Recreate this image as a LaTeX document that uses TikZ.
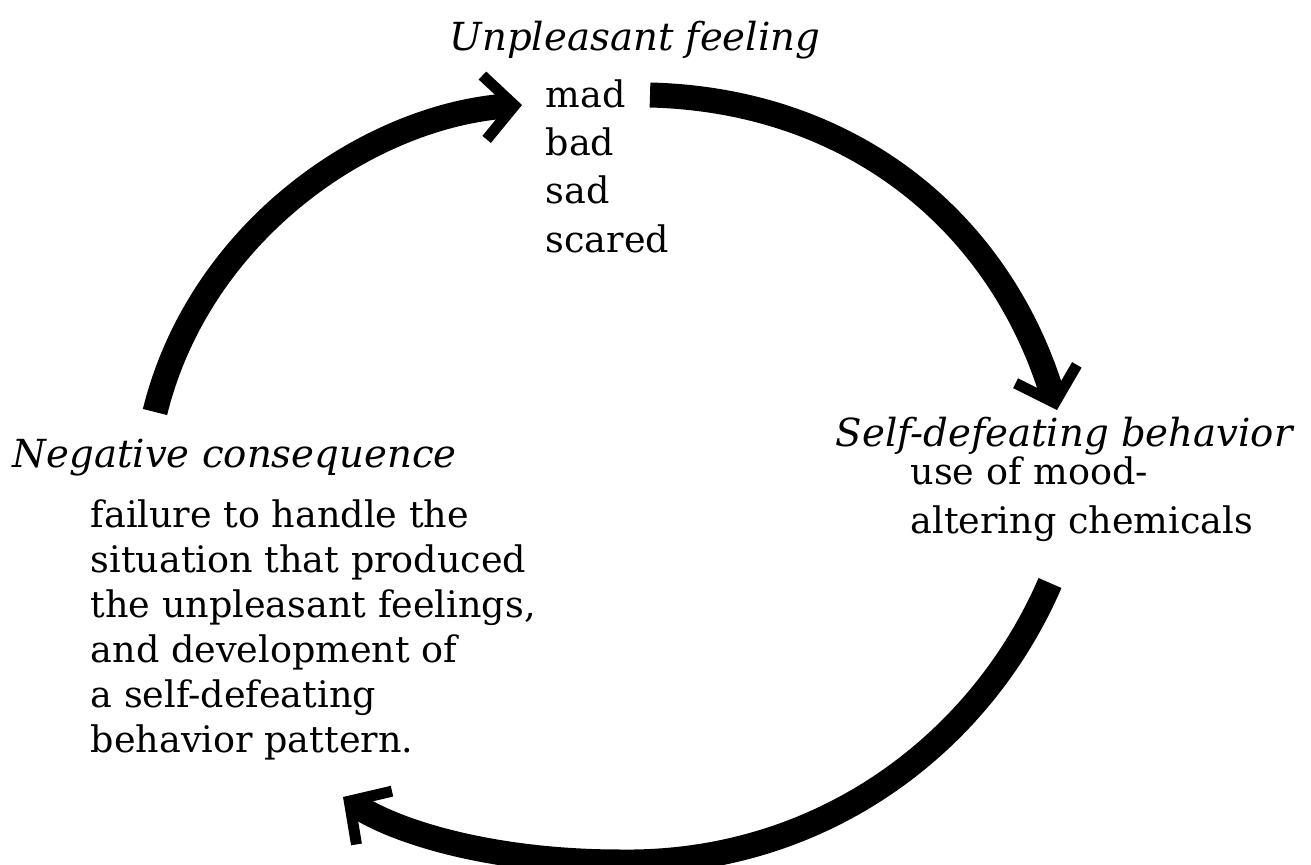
\documentclass[tikz,border=0pt]{standalone}
\usepackage{fontspec}
\setmainfont{DejaVu Serif}
\usetikzlibrary{arrows.meta,positioning}
\tikzset{every path/.style={black}, every node/.style={inner sep=0pt, anchor=base west}}
\tikzset{head/.style={font=\fontsize{11}{13}\selectfont\itshape},
         items/.style={align=left, font=\fontsize{10.4}{13.7}\selectfont},
         loop arc/.style={line width=2.5mm, -{Straight Barb[length=3mm,width=6.4mm,line width=1.1mm]}}}

\begin{document}
\begin{tikzpicture}[x=0.1mm,y=-0.1mm]
   \useasboundingbox (0,0) rectangle (1311,865);
   % headings at their baselines, lists at the baseline of their last line
   \node[head]  (feeling)     at (449,51)  {Unpleasant feeling};
   \node[items] (moods)       at (545,252) {mad\\bad\\sad\\scared};
   \node[head]  (behavior)    at (835,446) {Self-defeating behavior};
   \node[items] (chemicals)   at (910,533) {use of mood-\\altering chemicals};
   \node[head]  (consequence) at (12,467)  {Negative consequence};
   \node[items, font=\fontsize{10.4}{12.8}\selectfont] (failure) at (90,752)
     {failure to handle the\\situation that produced\\the unpleasant feelings,\\and development of\\a self-defeating\\behavior pattern.};
   \coordinate (feel out) at (650,95);
   \coordinate (behav in) at (1057,410);
   \coordinate (behav out) at (1050,583);
   \coordinate (cons in) at (343,797);
   \coordinate (cons out) at (155,412);
   \coordinate (feel in) at (522,105);
   \draw[loop arc] (feel out) .. controls (850,100) and (1000,220) .. (behav in);
   \draw[loop arc] (behav out) .. controls (980,745) and (820,865) .. (620,862)
                               .. controls (500,862) and (400,835) .. (cons in);
   \draw[loop arc] (cons out) .. controls (200,230) and (370,115) .. (feel in);
\end{tikzpicture}
\end{document}
